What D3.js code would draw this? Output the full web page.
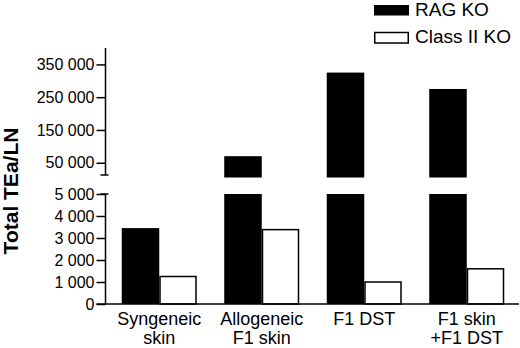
<!DOCTYPE html>
<html>
<head>
<meta charset="utf-8">
<script src="https://cdn.jsdelivr.net/npm/d3@7"></script>
<style>
    body { margin: 0; background: #fff; }
    svg { display: block; font-family: "Liberation Sans", Arial, sans-serif; }
</style>
</head>
<body>
<svg id="drawing_region"></svg>
<script>
const categories = ["Syngeneic skin", "Allogeneic F1 skin", "F1 DST", "F1 skin +F1 DST"];
const category_lines = [["Syngeneic", "skin"], ["Allogeneic", "F1 skin"], ["F1 DST"], ["F1 skin", "+F1 DST"]];
const series_names = ["RAG KO", "Class II KO"];
const rag_ko = [3450, 70000, 325000, 275000];
const class2_ko = [1250, 3380, 1000, 1600];
const upper_ticks = [50000, 150000, 250000, 350000];
const lower_ticks = [0, 1000, 2000, 3000, 4000, 5000];
const break_value = 5000;
const upper_max = 400000;

class BrokenBarChart {
    constructor( config, data ) {
        this.config = config;
        this.data = data;
        this.init();
    }
    init() {
        let self = this;
        self.svg = d3.select( self.config.parent )
            .attr('width', self.config.width)
            .attr('height', self.config.height);

        self.x0 = d3.scaleBand()
            .domain( categories )
            .range([108, 518])
            .paddingInner(0.268)
            .paddingOuter(0.134);
        self.x1 = d3.scaleBand()
            .domain( series_names )
            .range([0, self.x0.bandwidth()]);

        // lower panel 0..5000, upper panel 5000..400000
        self.ylow = d3.scaleLinear().domain([0, break_value]).range([304, 194]);
        self.yup = d3.scaleLinear().domain([break_value, upper_max]).range([177.5, 48]);
        self.axis_x = 105.5;
    }
    render() {
        let self = this;
        const fill = { "RAG KO": "#000", "Class II KO": "#fff" };

        const groups = self.svg.selectAll('.grp')
            .data( self.data )
            .join('g')
            .attr('class', 'grp')
            .attr('transform', d => `translate(${self.x0(d.cat)},0)`);

        // lower part
        groups.selectAll('.low')
            .data( d => d.values )
            .join('rect')
            .attr('class', 'low')
            .attr('x', d => self.x1(d.name) + (d.name === "Class II KO" ? 0.75 : 0))
            .attr('width', d => self.x1.bandwidth() - (d.name === "Class II KO" ? 1.5 : 0))
            .attr('y', d => self.ylow( Math.min(d.value, break_value) ))
            .attr('height', d => self.ylow(0) - self.ylow( Math.min(d.value, break_value) ))
            .attr('fill', d => fill[d.name])
            .attr('stroke', d => d.name === "Class II KO" ? '#000' : 'none')
            .attr('stroke-width', 1.5);

        // upper part
        groups.selectAll('.up')
            .data( d => d.values.filter( v => v.value > break_value ) )
            .join('rect')
            .attr('class', 'up')
            .attr('x', d => self.x1(d.name))
            .attr('width', self.x1.bandwidth())
            .attr('y', d => self.yup(d.value))
            .attr('height', d => self.yup(break_value) - self.yup(d.value))
            .attr('fill', d => fill[d.name]);

        const fmt = v => d3.format(',')(v).replace(/,/g, ' ');

        // y axes
        const lower_axis = d3.axisLeft( self.ylow )
            .tickValues( lower_ticks )
            .tickFormat( fmt )
            .tickSize(9)
            .tickPadding(2)
            .tickSizeOuter(0);
        const upper_axis = d3.axisLeft( self.yup )
            .tickValues( upper_ticks )
            .tickFormat( fmt )
            .tickSize(9)
            .tickPadding(2)
            .tickSizeOuter(0);

        [lower_axis, upper_axis].forEach( ax => {
            const g = self.svg.append('g')
                .attr('transform', `translate(${self.axis_x},0)`)
                .call( ax );
            g.select('.domain').remove();
            g.selectAll('line').attr('stroke', '#000').attr('stroke-width', 1.5);
            g.selectAll('text')
                .attr('fill', '#000')
                .style('font-size', '16px')
                .style('font-family', '"Liberation Sans", Arial, sans-serif');
        });

        const line = (x1, y1, x2, y2) => self.svg.append('line')
            .attr('x1', x1).attr('y1', y1).attr('x2', x2).attr('y2', y2)
            .attr('stroke', '#000').attr('stroke-width', 1.5);

        // axis lines with break caps
        line(self.axis_x, self.ylow(0), self.axis_x, self.ylow(break_value));
        line(self.axis_x - 5, self.ylow(break_value), self.axis_x + 3, self.ylow(break_value));
        line(self.axis_x, self.yup(upper_max), self.axis_x, self.yup(break_value) - 2.5);
        line(self.axis_x - 5, self.yup(break_value) - 2.5, self.axis_x + 3, self.yup(break_value) - 2.5);

        // x axis
        line(self.axis_x - 9, self.ylow(0), 519, self.ylow(0));

        // category labels
        const labels = self.svg.selectAll('.xlab')
            .data( self.data )
            .join('text')
            .attr('class', 'xlab')
            .attr('text-anchor', 'middle')
            .style('font-size', '18px');
        labels.selectAll('tspan')
            .data( d => d.lines.map( l => ({ l, cx: self.x0(d.cat) + self.x0.bandwidth() / 2 }) ) )
            .join('tspan')
            .attr('x', d => d.cx)
            .attr('y', (d, i) => 325 + i * 19)
            .text( d => d.l );

        // y title
        self.svg.append('text')
            .attr('transform', 'translate(18,191) rotate(-90)')
            .attr('text-anchor', 'middle')
            .style('font-size', '21px')
            .style('font-weight', 'bold')
            .text('Total TEa/LN');

        // legend
        const legend = self.svg.selectAll('.leg')
            .data( series_names )
            .join('g')
            .attr('class', 'leg')
            .attr('transform', (d, i) => `translate(374,${i * 27})`);
        legend.append('rect')
            .attr('x', d => d === "Class II KO" ? 0.75 : 0)
            .attr('y', d => d === "Class II KO" ? 5.5 : 5)
            .attr('width', d => d === "Class II KO" ? 33.5 : 35)
            .attr('height', 10.5)
            .attr('fill', d => fill[d])
            .attr('stroke', d => d === "Class II KO" ? '#000' : 'none')
            .attr('stroke-width', 1.5);
        legend.append('text')
            .attr('x', 41)
            .attr('y', 16)
            .style('font-size', '19px')
            .text( d => d );
    }
}

const data = categories.map( (c, i) => ({
    cat: c,
    lines: category_lines[i],
    values: [
        { name: series_names[0], value: rag_ko[i] },
        { name: series_names[1], value: class2_ko[i] }
    ]
}));

const chart = new BrokenBarChart( { parent: '#drawing_region', width: 520, height: 348 }, data );
chart.render();
</script>
</body>
</html>
